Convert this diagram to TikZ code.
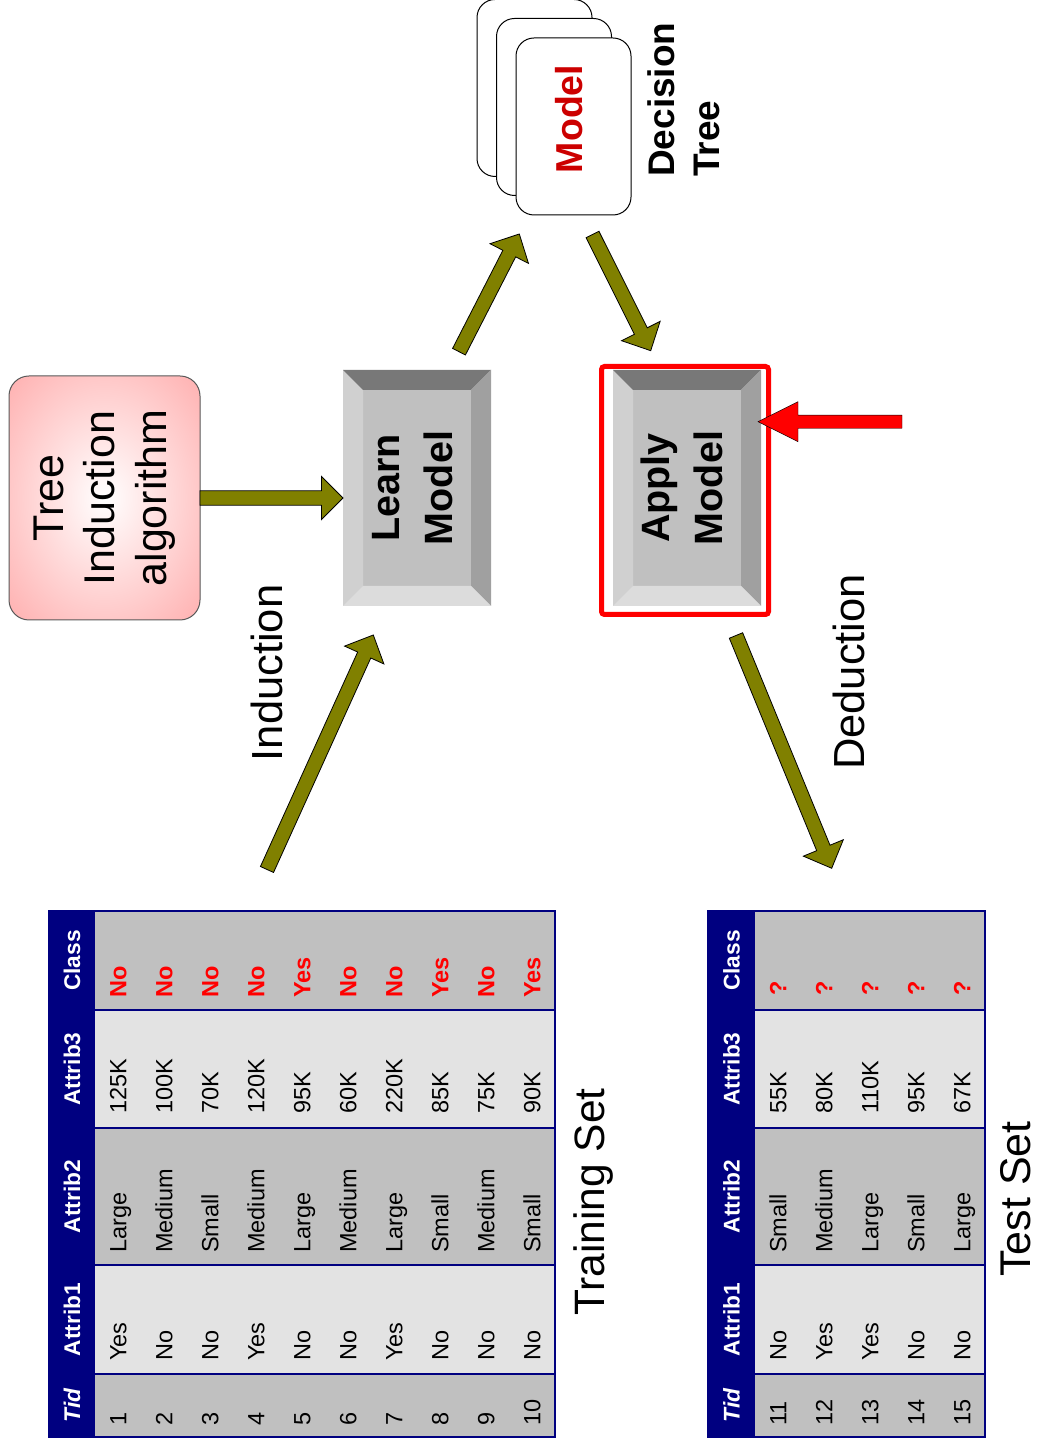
\documentclass[tikz,border=0pt]{standalone}
\usepackage{fontspec}
\setmainfont{Liberation Sans}
\usetikzlibrary{calc}

\definecolor{navyc}{HTML}{000080}
\definecolor{cellgray}{HTML}{C0C0C0}
\definecolor{celllight}{HTML}{E3E3E3}
\definecolor{olivec}{HTML}{808000}
\definecolor{modelred}{HTML}{CC0000}
\definecolor{pinkedge}{HTML}{FFA6A6}
\definecolor{bevfacec}{HTML}{C0C0C0}
\definecolor{bevtopc}{HTML}{D0D0D0}
\definecolor{bevleftc}{HTML}{DCDCDC}
\definecolor{bevrightc}{HTML}{787878}
\definecolor{bevbottomc}{HTML}{A0A0A0}

\pgfdeclareradialshading{pinkglow}{\pgfpoint{0bp}{0bp}}{color(0bp)=(white); color(40bp)=(pinkedge); color(100bp)=(pinkedge)}

\newcommand\fsz[2]{\fontsize{#1}{#2}\selectfont}

% bevelled push-button face: #1 left, #2 top, #3 right, #4 bottom (slide frame)
\newcommand\bevelbox[4]{%
  \fill[bevfacec] (#1,#2) rectangle (#3,#4);
  \fill[bevtopc] (#1,#2) -- (#3,#2) -- ({#3-20},{#2+20}) -- ({#1+20},{#2+20}) -- cycle;
  \fill[bevrightc] (#3,#2) -- (#3,#4) -- ({#3-20},{#4-20}) -- ({#3-20},{#2+20}) -- cycle;
  \fill[bevbottomc] (#1,#4) -- (#3,#4) -- ({#3-20},{#4-20}) -- ({#1+20},{#4-20}) -- cycle;
  \fill[bevleftc] (#1,#2) -- (#1,#4) -- ({#1+20},{#4-20}) -- ({#1+20},{#2+20}) -- cycle;
}

% block arrow: #1 style, #2 tail, #3 tip, #4 half shaft, #5 half head, #6 head length
\newcommand\blockarrow[6]{%
  \coordinate (ba-neck) at ($(#3)!#6!(#2)$);
  \draw[#1] ($(#2)!#4!90:(#3)$) -- ($(ba-neck)!#4!90:(#3)$) -- ($(ba-neck)!#5!90:(#3)$)
    -- (#3) -- ($(ba-neck)!#5!-90:(#3)$) -- ($(ba-neck)!#4!-90:(#3)$)
    -- ($(#2)!#4!-90:(#3)$) -- cycle;
}

% table background: #1 top, #2 header bottom, #3 bottom
\newcommand\tableframe[3]{%
  \fill[navyc] (12,#1) rectangle (538,#2);
  \fill[cellgray] (12,#2) rectangle (75,#3);
  \fill[celllight] (75,#2) rectangle (184,#3);
  \fill[cellgray] (184,#2) rectangle (321,#3);
  \fill[celllight] (321,#2) rectangle (439,#3);
  \fill[cellgray] (439,#2) rectangle (538,#3);
  \foreach \u in {75,184,321,439} \draw[colline] (\u,#2) -- (\u,#3);
  \draw[tableborder] (12,#1) rectangle (538,#3);
}

% column headings: #1 name prefix, #2 baseline
\newcommand\tableheads[2]{%
  \node[headcell, font=\fsz{22.7}{28}\bfseries\itshape] (#1-tid) at (43.5,#2) {Tid};
  \node[headcell] (#1-a1) at (129.5,#2) {Attrib1};
  \node[headcell] (#1-a2) at (252.5,#2) {Attrib2};
  \node[headcell] (#1-a3) at (380,#2) {Attrib3};
  \node[headcell] (#1-cls) at (488.5,#2) {Class};
}

\tikzset{
  cell/.style={anchor=base west, inner sep=0pt, font=\fsz{23.5}{28}},
  classcell/.style={cell, text=red, font=\fsz{23.5}{28}\bfseries},
  headcell/.style={anchor=base, inner sep=0pt, text=white, font=\fsz{22.7}{28}\bfseries},
  colline/.style={draw=navyc, line width=1.2pt},
  tableborder/.style={draw=navyc, line width=2.5pt},
  biglabel/.style={inner sep=0pt, font=\fsz{43.5}{52}},
  treebox/.style={draw=black!65, line width=1pt, rounded corners=20pt, shade, shading=pinkglow,
    minimum width=244pt, minimum height=191pt, inner sep=0pt, align=center, font=\fsz{43}{51.5}},
  modelbox/.style={minimum width=236pt, minimum height=148pt, inner sep=0pt, align=center,
    font=\fsz{39.5}{53}\bfseries},
  card/.style={draw=black, line width=1pt, fill=white, rounded corners=18pt,
    minimum width=177pt, minimum height=115pt, inner sep=0pt},
  cardtext/.style={inner sep=0pt, text=modelred, font=\fsz{37.5}{45}\bfseries},
  dtext/.style={inner sep=0pt, align=left, font=\fsz{37}{45}\bfseries},
  redframe/.style={draw=red, line width=5pt, rounded corners=3pt},
  olivearrow/.style={fill=olivec, draw=black, line width=0.8pt},
  redarrow/.style={fill=red},
}

\begin{document}
\begin{tikzpicture}[x=1pt, y=-1pt, rotate=90, transform shape]
\useasboundingbox (0,0) rectangle (1449,1037);
\fill[white] (0,0) rectangle (1449,1037);

% ---------- training set ----------
\tableframe{49}{95}{555}
\tableheads{tr}{80.1}
\foreach \i/\a/\b/\c/\k in {1/Yes/Large/125K/No, 2/No/Medium/100K/No, 3/No/Small/70K/No,
    4/Yes/Medium/120K/No, 5/No/Large/95K/Yes, 6/No/Medium/60K/No, 7/Yes/Large/220K/No,
    8/No/Small/85K/Yes, 9/No/Medium/75K/No, 10/No/Small/90K/Yes} {
  \node[cell] (tr-\i-tid) at (23,{80.4+46*\i}) {\i};
  \node[cell] (tr-\i-a1) at (88,{80.4+46*\i}) {\a};
  \node[cell] (tr-\i-a2) at (196,{80.4+46*\i}) {\b};
  \node[cell] (tr-\i-a3) at (335,{80.4+46*\i}) {\c};
  \node[classcell] (tr-\i-cls) at (451,{80.4+46*\i}) {\k};
}
\node[biglabel, font=\fsz{42.5}{52}, anchor=base] (trainlabel) at (247,604) {Training Set};

% ---------- test set ----------
\tableframe{708}{755}{985}
\tableheads{ts}{739.6}
\foreach \i/\a/\b/\c in {11/No/Small/55K, 12/Yes/Medium/80K, 13/Yes/Large/110K,
    14/No/Small/95K, 15/No/Large/67K} {
  \node[cell] (ts-\i-tid) at (23,{46*\i+280.4}) {\i};
  \node[cell] (ts-\i-a1) at (88,{46*\i+280.4}) {\a};
  \node[cell] (ts-\i-a2) at (196,{46*\i+280.4}) {\b};
  \node[cell] (ts-\i-a3) at (335,{46*\i+280.4}) {\c};
  \node[classcell] (ts-\i-cls) at (453,{46*\i+280.4}) {?};
}
\node[biglabel, font=\fsz{43}{52}, anchor=base] (testlabel) at (250,1030) {Test Set};

% ---------- algorithm and model boxes ----------
\node[treebox] (tree) at (951,104.5) {Tree\\Induction\\algorithm};

\bevelbox{843}{343}{1079}{491}
\node[modelbox] (learn) at (961,417) {Learn\\Model\rule[-10pt]{0pt}{10pt}};

\bevelbox{843}{613}{1079}{761}
\node[modelbox] (apply) at (961,687) {Apply\\Model\rule[-10pt]{0pt}{10pt}};
\draw[redframe] (834.5,601.5) rectangle (1082.5,768.5);

% stacked model cards
\node[card] (card1) at (1361,534.5) {};
\node[card] (card2) at (1342,554) {};
\node[card] (card3) at (1322.5,573.5) {};
\node[cardtext] (cardlabel) at (1330,569) {Model};
\node[dtext, anchor=west] (dtree) at (1272,684) {Decision\\Tree};

% side labels
\node[biglabel] (induction) at (776,266.5) {Induction};
\node[biglabel] (deduction) at (777,848.5) {Deduction};

% ---------- arrows ----------
\coordinate (treeout) at (951,200);
\coordinate (learnin) at (951,343);
\coordinate (indtail) at (579.5,267);
\coordinate (indtip) at (814,373.3);
\coordinate (lmtail) at (1097.3,459);
\coordinate (lmtip) at (1215,519.3);
\coordinate (matail) at (1214.5,592.5);
\coordinate (matip) at (1098.3,650.7);
\coordinate (dedtail) at (813.5,736);
\coordinate (dedtip) at (580.7,831.7);
\coordinate (redtail) at (1027.3,902);
\coordinate (redtip) at (1027.3,758);

\blockarrow{olivearrow}{treeout}{learnin}{7.2pt}{21.6pt}{21.6pt}
\blockarrow{olivearrow}{indtail}{indtip}{7.2pt}{21.6pt}{22pt}
\blockarrow{olivearrow}{lmtail}{lmtip}{7.2pt}{21.6pt}{22pt}
\blockarrow{olivearrow}{matail}{matip}{7.2pt}{21.6pt}{22pt}
\blockarrow{olivearrow}{dedtail}{dedtip}{7.2pt}{21.6pt}{22pt}
\blockarrow{redarrow}{redtail}{redtip}{6.6pt}{20pt}{40pt}
\end{tikzpicture}
\end{document}
